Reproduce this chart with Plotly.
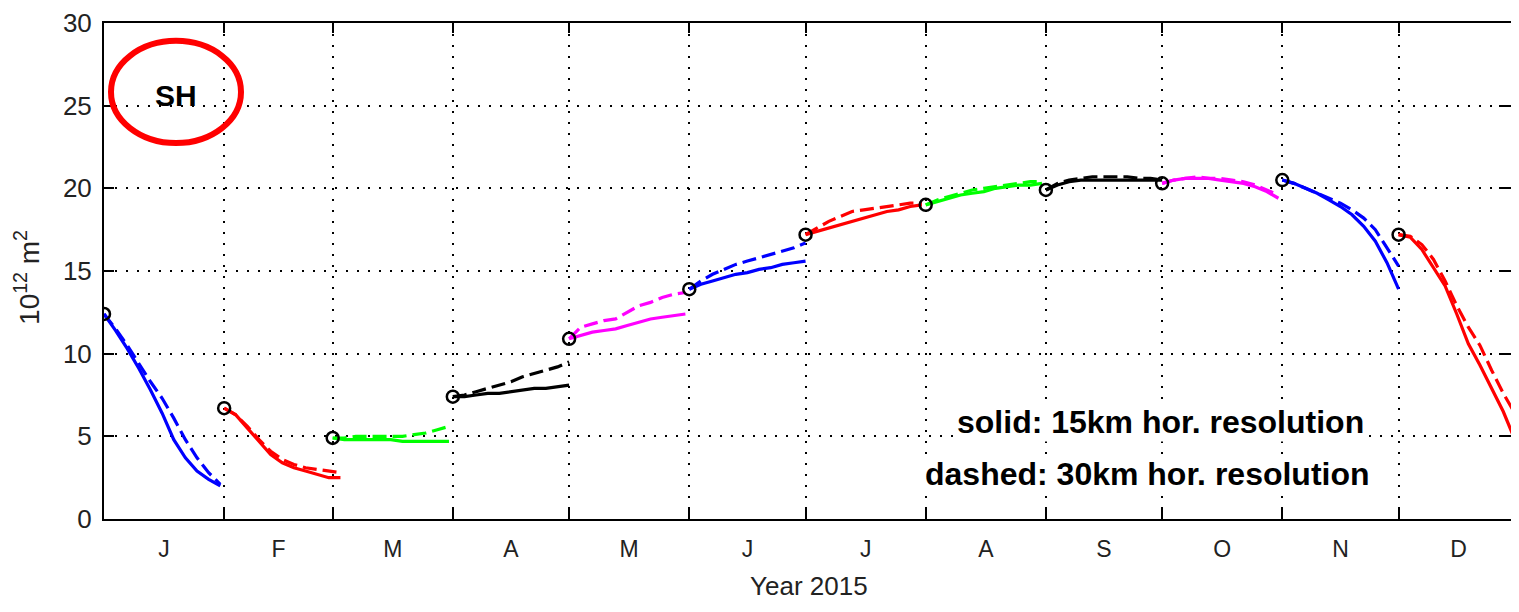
import plotly.graph_objects as go

# ---------------- data ----------------
month_letters = ["J", "F", "M", "A", "M", "J", "J", "A", "S", "O", "N", "D"]
month_start_day = [0, 31, 59, 90, 120, 151, 181, 212, 243, 273, 304, 334]
year_end_day = 365
month_colors = ["#0000ff", "#ff0000", "#00ff00", "#000000", "#ff00ff", "#0000ff",
                "#ff0000", "#00ff00", "#000000", "#ff00ff", "#0000ff", "#ff0000"]

# forecast lead days (same for every monthly segment)
lead_days = [0, 3, 6, 9, 12, 15, 18, 21, 24, 27, 30]

# sea-ice extent, 10^12 m^2 -- solid: 15 km, dashed: 30 km horizontal resolution
solid_jan = [12.4, 11.4, 10.3, 9.1, 7.8, 6.4, 4.8, 3.7, 2.9, 2.4, 2.0]
dash_jan = [12.4, 11.5, 10.5, 9.4, 8.3, 7.3, 6.1, 4.8, 3.7, 2.8, 2.1]
solid_feb = [6.7, 6.3, 5.5, 4.7, 3.9, 3.4, 3.1, 2.9, 2.7, 2.5, 2.5]
dash_feb = [6.7, 6.3, 5.6, 4.8, 4.1, 3.6, 3.3, 3.1, 3.0, 2.9, 2.8]
solid_mar = [4.9, 4.8, 4.8, 4.8, 4.8, 4.8, 4.7, 4.7, 4.7, 4.7, 4.7]
dash_mar = [4.9, 4.9, 5.0, 5.0, 5.0, 5.0, 5.0, 5.1, 5.2, 5.4, 5.6]
solid_apr = [7.4, 7.4, 7.5, 7.6, 7.6, 7.7, 7.8, 7.9, 7.9, 8.0, 8.1]
dash_apr = [7.4, 7.5, 7.7, 7.9, 8.1, 8.3, 8.6, 8.8, 9.0, 9.2, 9.5]
solid_may = [10.9, 11.1, 11.3, 11.4, 11.5, 11.7, 11.9, 12.1, 12.2, 12.3, 12.4]
dash_may = [10.9, 11.6, 11.8, 12.0, 12.1, 12.5, 12.9, 13.1, 13.4, 13.6, 13.7]
solid_jun = [13.9, 14.2, 14.4, 14.6, 14.8, 14.9, 15.1, 15.2, 15.4, 15.5, 15.6]
dash_jun = [13.9, 14.4, 14.8, 15.1, 15.4, 15.6, 15.8, 16.0, 16.2, 16.4, 16.7]
solid_jul = [17.2, 17.4, 17.6, 17.8, 18.0, 18.2, 18.4, 18.6, 18.7, 18.9, 19.0]
dash_jul = [17.2, 17.6, 18.0, 18.3, 18.6, 18.7, 18.8, 18.9, 19.0, 19.1, 19.1]
solid_aug = [19.0, 19.2, 19.4, 19.6, 19.7, 19.8, 20.0, 20.1, 20.2, 20.2, 20.3]
dash_aug = [19.0, 19.3, 19.5, 19.7, 19.9, 20.0, 20.1, 20.2, 20.3, 20.4, 20.4]
solid_sep = [19.9, 20.2, 20.4, 20.5, 20.5, 20.5, 20.5, 20.5, 20.5, 20.5, 20.5]
dash_sep = [19.9, 20.3, 20.5, 20.6, 20.7, 20.7, 20.7, 20.7, 20.6, 20.6, 20.5]
solid_oct = [20.3, 20.5, 20.6, 20.6, 20.6, 20.5, 20.4, 20.3, 20.1, 19.8, 19.4]
dash_oct = [20.3, 20.5, 20.6, 20.7, 20.6, 20.6, 20.5, 20.4, 20.2, 19.9, 19.6]
solid_nov = [20.5, 20.3, 20.0, 19.7, 19.3, 18.9, 18.4, 17.7, 16.8, 15.5, 13.9]
dash_nov = [20.5, 20.3, 20.0, 19.7, 19.4, 19.1, 18.7, 18.2, 17.5, 16.4, 15.3]
solid_dec = [17.2, 17.05, 16.3, 15.2, 14.1, 12.4, 10.6, 9.3, 7.9, 6.5, 4.8]
dash_dec = [17.2, 17.1, 16.6, 15.7, 14.4, 12.9, 11.6, 10.5, 9.0, 7.6, 6.4]

solid_series = [solid_jan, solid_feb, solid_mar, solid_apr, solid_may, solid_jun,
                solid_jul, solid_aug, solid_sep, solid_oct, solid_nov, solid_dec]
dashed_series = [dash_jan, dash_feb, dash_mar, dash_apr, dash_may, dash_jun,
                 dash_jul, dash_aug, dash_sep, dash_oct, dash_nov, dash_dec]

y_ticks = [0, 5, 10, 15, 20, 25, 30]

# ---------------- figure ----------------
FONT = "Liberation Sans, Arial, sans-serif"
PAGE_OFF = 8                      # default body margin of the page
W, H = 1503, 596
L, R, T, B = 96, 0, 11, 85
PLOT_L, PLOT_R = PAGE_OFF + L, PAGE_OFF + W - R      # page pixels
PLOT_T, PLOT_B = PAGE_OFF + T, PAGE_OFF + H - B
X_VISIBLE_END = 363               # right part of the year is cut off by the frame edge


def px(x):
    return (x - PLOT_L) / (PLOT_R - PLOT_L)


def py(y):
    return (PLOT_B - y) / (PLOT_B - PLOT_T)


fig = go.Figure()

for i in range(12):
    days = [month_start_day[i] + d for d in lead_days]
    fig.add_trace(go.Scatter(x=days, y=solid_series[i], mode="lines",
                             line=dict(color=month_colors[i], width=3.2),
                             hoverinfo="skip"))
    fig.add_trace(go.Scatter(x=days, y=dashed_series[i], mode="lines",
                             line=dict(color=month_colors[i], width=3.2, dash="14px,6px"),
                             hoverinfo="skip"))

fig.add_trace(go.Scatter(x=month_start_day, y=[s[0] for s in solid_series], mode="markers",
                         marker=dict(symbol="circle-open", size=12, color="black",
                                     line=dict(width=2.5, color="black")),
                         hoverinfo="skip"))

# invisible trace to carry the secondary axes
fig.add_trace(go.Scatter(x=[0], y=[0], xaxis="x2", yaxis="y2", mode="markers",
                         marker=dict(opacity=0), hoverinfo="skip"))

boundaries = month_start_day + [year_end_day]
mids = [(boundaries[i] + boundaries[i + 1]) / 2 for i in range(12)]

fig.update_layout(
    width=W, height=H,
    margin=dict(l=L, r=R, t=T, b=B),
    plot_bgcolor="white", paper_bgcolor="white",
    showlegend=False,
    font=dict(family=FONT, color="#222222"),
    xaxis=dict(range=[0, X_VISIBLE_END], tickvals=boundaries, showticklabels=False,
               ticks="inside", ticklen=10, tickwidth=2, tickcolor="black",
               showline=True, linecolor="black", linewidth=2, mirror="ticks",
               showgrid=True, gridcolor="black", gridwidth=2, griddash="2px,9px",
               zeroline=False),
    yaxis=dict(range=[0, 30], tickvals=y_ticks, ticks="inside", ticklen=10, tickwidth=2,
               tickcolor="black", showline=True, linecolor="black", linewidth=2,
               showgrid=True, gridcolor="black", gridwidth=2, griddash="2px,9px",
               zeroline=False, tickfont=dict(size=26, color="#222222"),
               ticklabelstandoff=5, ticklabeloverflow="allow"),
    xaxis2=dict(range=[0, X_VISIBLE_END], overlaying="x", side="bottom", anchor="y2",
                tickvals=mids, ticktext=month_letters, ticks="outside", ticklen=9,
                tickcolor="rgba(0,0,0,0)", showgrid=False, showline=False, zeroline=False,
                tickfont=dict(size=23, color="#222222")),
    yaxis2=dict(range=[0, 30], overlaying="y", side="right", anchor="x2",
                tickvals=y_ticks, ticks="inside", ticklen=12, tickwidth=2, tickcolor="black",
                showticklabels=False, showgrid=False, showline=False, zeroline=False),
)

fig.add_annotation(text="10<sup>12</sup> m<sup>2</sup>", xref="paper", yref="paper",
                   x=px(27), y=py(276), textangle=-90, showarrow=False,
                   font=dict(size=28, color="#222222"), xanchor="center", yanchor="middle")
fig.add_annotation(text="Year 2015", xref="paper", yref="paper", x=px(809), y=py(604),
                   showarrow=False, font=dict(size=26, color="#222222"),
                   xanchor="center", yanchor="bottom")
fig.add_annotation(text="<b>SH</b>", xref="paper", yref="paper", x=px(176), y=py(92),
                   showarrow=False, font=dict(size=30, color="black"),
                   xanchor="center", yanchor="middle")
fig.add_annotation(text="<b>solid: 15km hor. resolution</b>", xref="paper", yref="paper",
                   x=px(1160), y=py(421), showarrow=False,
                   font=dict(size=32, color="black"), xanchor="center", yanchor="middle",
                   bgcolor="white")
fig.add_annotation(text="<b>dashed: 30km hor. resolution</b>", xref="paper", yref="paper",
                   x=px(1147), y=py(474), showarrow=False,
                   font=dict(size=32, color="black"), xanchor="center", yanchor="middle",
                   bgcolor="white")
fig.add_shape(type="circle", xref="paper", yref="paper",
              x0=px(111), x1=px(241), y0=py(37), y1=py(140),
              line=dict(color="#ff0000", width=6))

fig.write_html("out.html")
